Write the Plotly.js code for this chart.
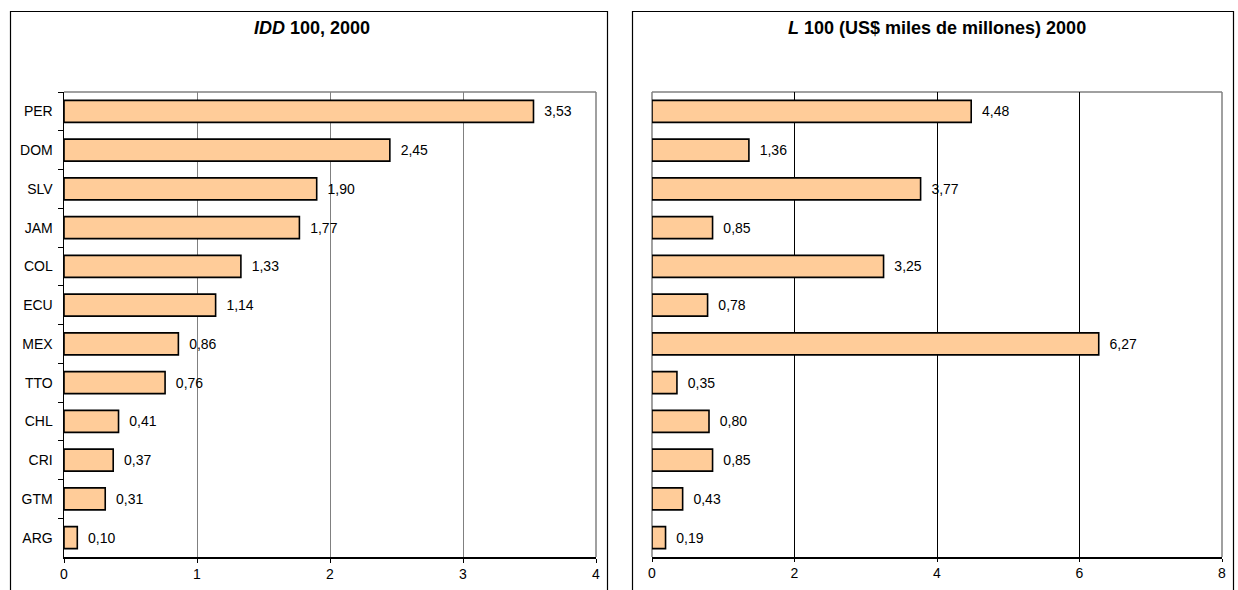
<!DOCTYPE html>
<html>
<head>
<meta charset="utf-8">
<script src="https://cdn.plot.ly/plotly-3.0.1.min.js"></script>
<style>html,body{margin:0;padding:0;background:#fff;}#chart{width:1238px;height:590px;}</style>
</head>
<body>
<div id="chart"></div>
<script>
const categories = ["PER","DOM","SLV","JAM","COL","ECU","MEX","TTO","CHL","CRI","GTM","ARG"];
const iddValues = [3.53, 2.45, 1.90, 1.77, 1.33, 1.14, 0.86, 0.76, 0.41, 0.37, 0.31, 0.10];
const lValues = [4.48, 1.36, 3.77, 0.85, 3.25, 0.78, 6.27, 0.35, 0.80, 0.85, 0.43, 0.19];
const leftTitle = "<i>IDD</i> 100, 2000";
const rightTitle = "<i>L</i> 100 (US$ miles de millones) 2000";

const W = 1238, H = 590;
const px = v => v / W, py = v => 1 - v / H;

const font = {family: "Liberation Sans, Arial, sans-serif", size: 14, color: "#000"};
const barStyle = {color: "#FFCC99", line: {color: "#000", width: 1.6}};

const traces = [
  {type: "bar", orientation: "h", x: iddValues, y: categories, xaxis: "x", yaxis: "y",
   marker: barStyle, texttemplate: "\u00a0\u00a0%{x:.2f}", textposition: "outside", cliponaxis: false,
   textfont: font, hoverinfo: "x+y"},
  {type: "bar", orientation: "h", x: lValues, y: categories, xaxis: "x2", yaxis: "y2",
   marker: barStyle, texttemplate: "\u00a0\u00a0%{x:.2f}", textposition: "outside", cliponaxis: false,
   textfont: font, hoverinfo: "x+y"}
];

const yDom = [py(557), py(92)];
const titleFont = {family: "Liberation Sans, Arial, sans-serif", size: 18, color: "#000", weight: "bold"};
const layout = {
  width: W, height: H,
  margin: {l: 0, r: 0, t: 0, b: 0},
  paper_bgcolor: "#fff", plot_bgcolor: "#fff",
  showlegend: false,
  separators: ",.",
  bargap: 0.43,
  font: font,
  xaxis: {domain: [px(64), px(596)], range: [0, 4], dtick: 1, showgrid: true, gridcolor: "#808080", gridwidth: 1,
          zeroline: false, showline: true, linecolor: "#000", linewidth: 1.5, ticks: "outside", ticklen: 4,
          tickcolor: "#000", tickfont: font, fixedrange: true, anchor: "y"},
  yaxis: {domain: yDom, type: "category", categoryorder: "array", categoryarray: categories, autorange: "reversed",
          showline: true, linecolor: "#000", linewidth: 1.5, ticks: "outside", tickson: "boundaries", ticklen: 5,
          tickcolor: "#000", tickfont: font, showgrid: false, anchor: "x", ticklabelstandoff: 7},
  xaxis2: {domain: [px(652), px(1222)], range: [0, 8], dtick: 2, showgrid: true, gridcolor: "#000", gridwidth: 1,
           zeroline: false, showline: true, linecolor: "#000", linewidth: 1.5, ticks: "outside", ticklen: 3,
           tickcolor: "#000", tickfont: font, anchor: "y2"},
  yaxis2: {domain: yDom, type: "category", categoryorder: "array", categoryarray: categories, autorange: "reversed",
           showticklabels: false, showline: false, ticks: "", showgrid: false, anchor: "x2"},
  annotations: [
    {text: leftTitle, xref: "paper", yref: "paper", x: px(312), y: py(28), xanchor: "center", yanchor: "middle",
     showarrow: false, font: titleFont},
    {text: rightTitle, xref: "paper", yref: "paper", x: px(937), y: py(28), xanchor: "center", yanchor: "middle",
     showarrow: false, font: titleFont}
  ],
  shapes: [
    {type: "rect", xref: "paper", yref: "paper", x0: px(10.5), x1: px(607.5), y0: -0.05, y1: py(11.5),
     line: {color: "#000", width: 1.2}, fillcolor: "rgba(0,0,0,0)"},
    {type: "rect", xref: "paper", yref: "paper", x0: px(632.5), x1: px(1233.5), y0: -0.05, y1: py(11.5),
     line: {color: "#000", width: 1.2}, fillcolor: "rgba(0,0,0,0)"},
    {type: "line", xref: "x domain", yref: "y domain", x0: 0, x1: 1, y0: 1, y1: 1, line: {color: "#808080", width: 1.5}, layer: "below"},
    {type: "line", xref: "x domain", yref: "y domain", x0: 1, x1: 1, y0: 0, y1: 1, line: {color: "#808080", width: 1.5}, layer: "below"},
    {type: "line", xref: "x2 domain", yref: "y2 domain", x0: 0, x1: 1, y0: 1, y1: 1, line: {color: "#808080", width: 1.5}, layer: "below"},
    {type: "line", xref: "x2 domain", yref: "y2 domain", x0: 1, x1: 1, y0: 0, y1: 1, line: {color: "#808080", width: 1.5}, layer: "below"},
    {type: "line", xref: "x2 domain", yref: "y2 domain", x0: 0, x1: 0, y0: 0, y1: 1, line: {color: "#808080", width: 1.5}, layer: "below"}
  ]
};

Plotly.newPlot("chart", traces, layout, {displayModeBar: false, staticPlot: true});
</script>
</body>
</html>
